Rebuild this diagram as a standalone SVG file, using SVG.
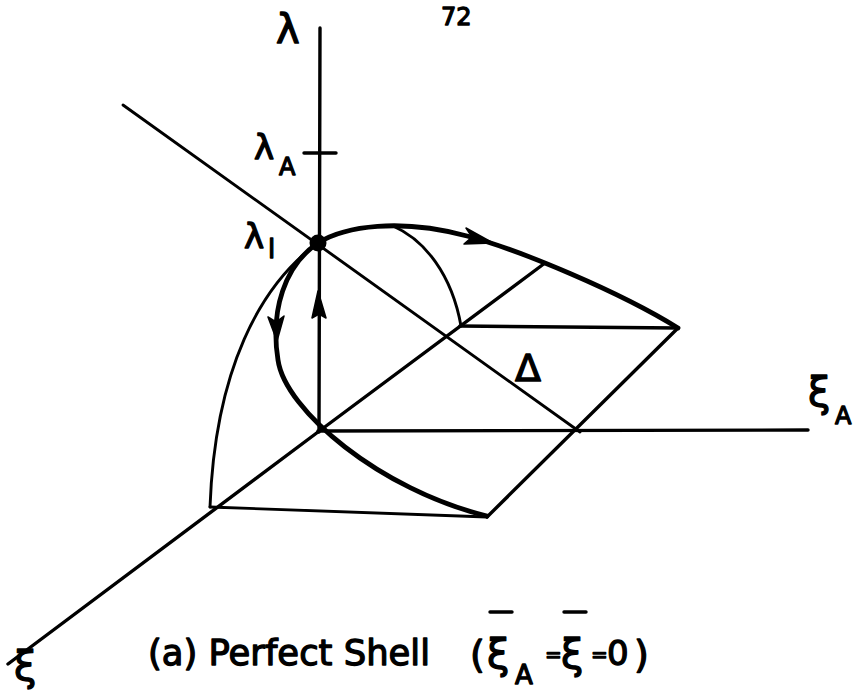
<svg xmlns="http://www.w3.org/2000/svg" width="856" height="690" viewBox="0 0 856 690">
<style>
.ln{fill:none;stroke:#000;stroke-linecap:round;stroke-linejoin:round}
.ax{stroke-width:3.4}
.th{stroke-width:2.9}
.tk{stroke-width:4.8}
.lb{font-family:"DejaVu Sans","Liberation Sans",sans-serif;fill:#000;stroke:#000;stroke-width:1.3;stroke-linejoin:round}
.ah{fill:#000;stroke:#000;stroke-width:1.5;stroke-linejoin:round}
</style>
<rect width="856" height="690" fill="#fff"/>
<g id="connectors">
  <path class="ln ax" d="M320,28 L319,432"/>
  <path class="ln ax" d="M304,153 L336,153"/>
  <path class="ln ax" d="M318,431 L808,430"/>
  <path class="ln ax" d="M318,432 L8,664"/>
  <path class="ln th" d="M123,105 L580,432"/>
  <path class="ln th" d="M210,507 L487,517"/>
  <path class="ln ax" d="M487,517 L678,328"/>
  <path class="ln ax" d="M318,432 L545,263"/>
  <path class="ln ax" d="M460,326 L678,328"/>
  <path class="ln tk" d="M318,243 C345,226 400,218 467,236 C520,250 620,292 678,328"/>
  <path class="ln th" d="M393,226 C425,240 452,275 461,326"/>
  <path class="ln th" d="M318,243 C260,285 215,370 210,507"/>
  <path class="ln tk" d="M318,243 C285,265 270,310 278,360 C285,410 380,490 487,516"/>
  <path class="ah" d="M318,291 L326,318 L319,314 L312,318 Z"/>
  <path class="ah" d="M277,341 L268,317 L276,322 L284,316 Z"/>
  <path class="ah" d="M493,243 L466,228 L472,237 L464,244 Z"/>
</g>
<g id="node-lambda1">
  <circle cx="318" cy="243" r="8.5" fill="#000"/>
  <text class="lb" x="244" y="248" font-size="34">λ</text>
  <text class="lb" x="268" y="258" font-size="26">l</text>
</g>
<g id="label-lambda">
  <text class="lb" x="276" y="43" font-size="40">λ</text>
</g>
<g id="label-page">
  <text class="lb" x="441" y="25" font-size="24" stroke-width="0.6">72</text>
</g>
<g id="label-lambdaA">
  <text class="lb" x="254" y="159" font-size="34">λ</text>
  <text class="lb" x="279" y="175" font-size="24">A</text>
</g>
<g id="label-delta">
  <text class="lb" x="515" y="381" font-size="38">Δ</text>
</g>
<g id="label-xiA">
  <text class="lb" x="808" y="406" font-size="40">ξ</text>
  <text class="lb" x="835" y="424" font-size="24">A</text>
</g>
<g id="label-xi">
  <text class="lb" x="14" y="680" font-size="40">ξ</text>
</g>
<g id="caption">
  <text class="lb" x="148" y="665" font-size="36" textLength="282" lengthAdjust="spacingAndGlyphs">(a) Perfect Shell</text>
  <text class="lb" x="470" y="667" font-size="38">(</text>
  <text class="lb" x="487" y="668" font-size="40">ξ</text>
  <path class="ln ax" d="M490,612 L512,612"/>
  <text class="lb" x="515" y="684" font-size="26">A</text>
  <text class="lb" x="545" y="661" font-size="20">=</text>
  <text class="lb" x="561" y="668" font-size="40">ξ</text>
  <path class="ln ax" d="M564,612 L586,612"/>
  <text class="lb" x="591" y="661" font-size="20">=</text>
  <text class="lb" x="607" y="665" font-size="34">0</text>
  <text class="lb" x="634" y="667" font-size="38">)</text>
</g>
</svg>
